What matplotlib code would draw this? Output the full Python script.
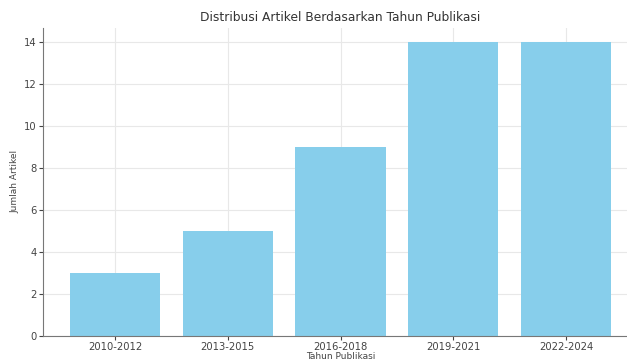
import numpy as np
import matplotlib.pyplot as plt

periode = ['2010-2012', '2013-2015', '2016-2018', '2019-2021', '2022-2024']
jumlah = [3, 5, 9, 14, 14]

fig = plt.figure(figsize=(6.27, 3.63), dpi=100)
ax = fig.add_axes([0.0686, 0.0744, 0.949, 0.849])

ax.bar(periode, jumlah, color='skyblue', width=0.8, zorder=2)
ax.set_xlim(-0.64, 4.64)
ax.set_ylim(0, 14.7)
ax.set_yticks(np.arange(0, 15, 2))

ax.grid(True, color='#e8e8e8', linewidth=0.8, zorder=0)
ax.spines['top'].set_visible(False)
ax.spines['right'].set_visible(False)
for s in ['left', 'bottom']:
    ax.spines[s].set_color('#777777')
ax.tick_params(labelsize=7.2, colors='#444444', length=3, pad=1.5)

ax.set_title('Distribusi Artikel Berdasarkan Tahun Publikasi', fontsize=8.8, color='#333333', pad=5)
ax.set_xlabel('Tahun Publikasi', fontsize=6.5, color='#444444', labelpad=0)
ax.set_ylabel('Jumlah Artikel', fontsize=6.5, color='#444444', labelpad=3)

fig.savefig('out.png', dpi=100)
